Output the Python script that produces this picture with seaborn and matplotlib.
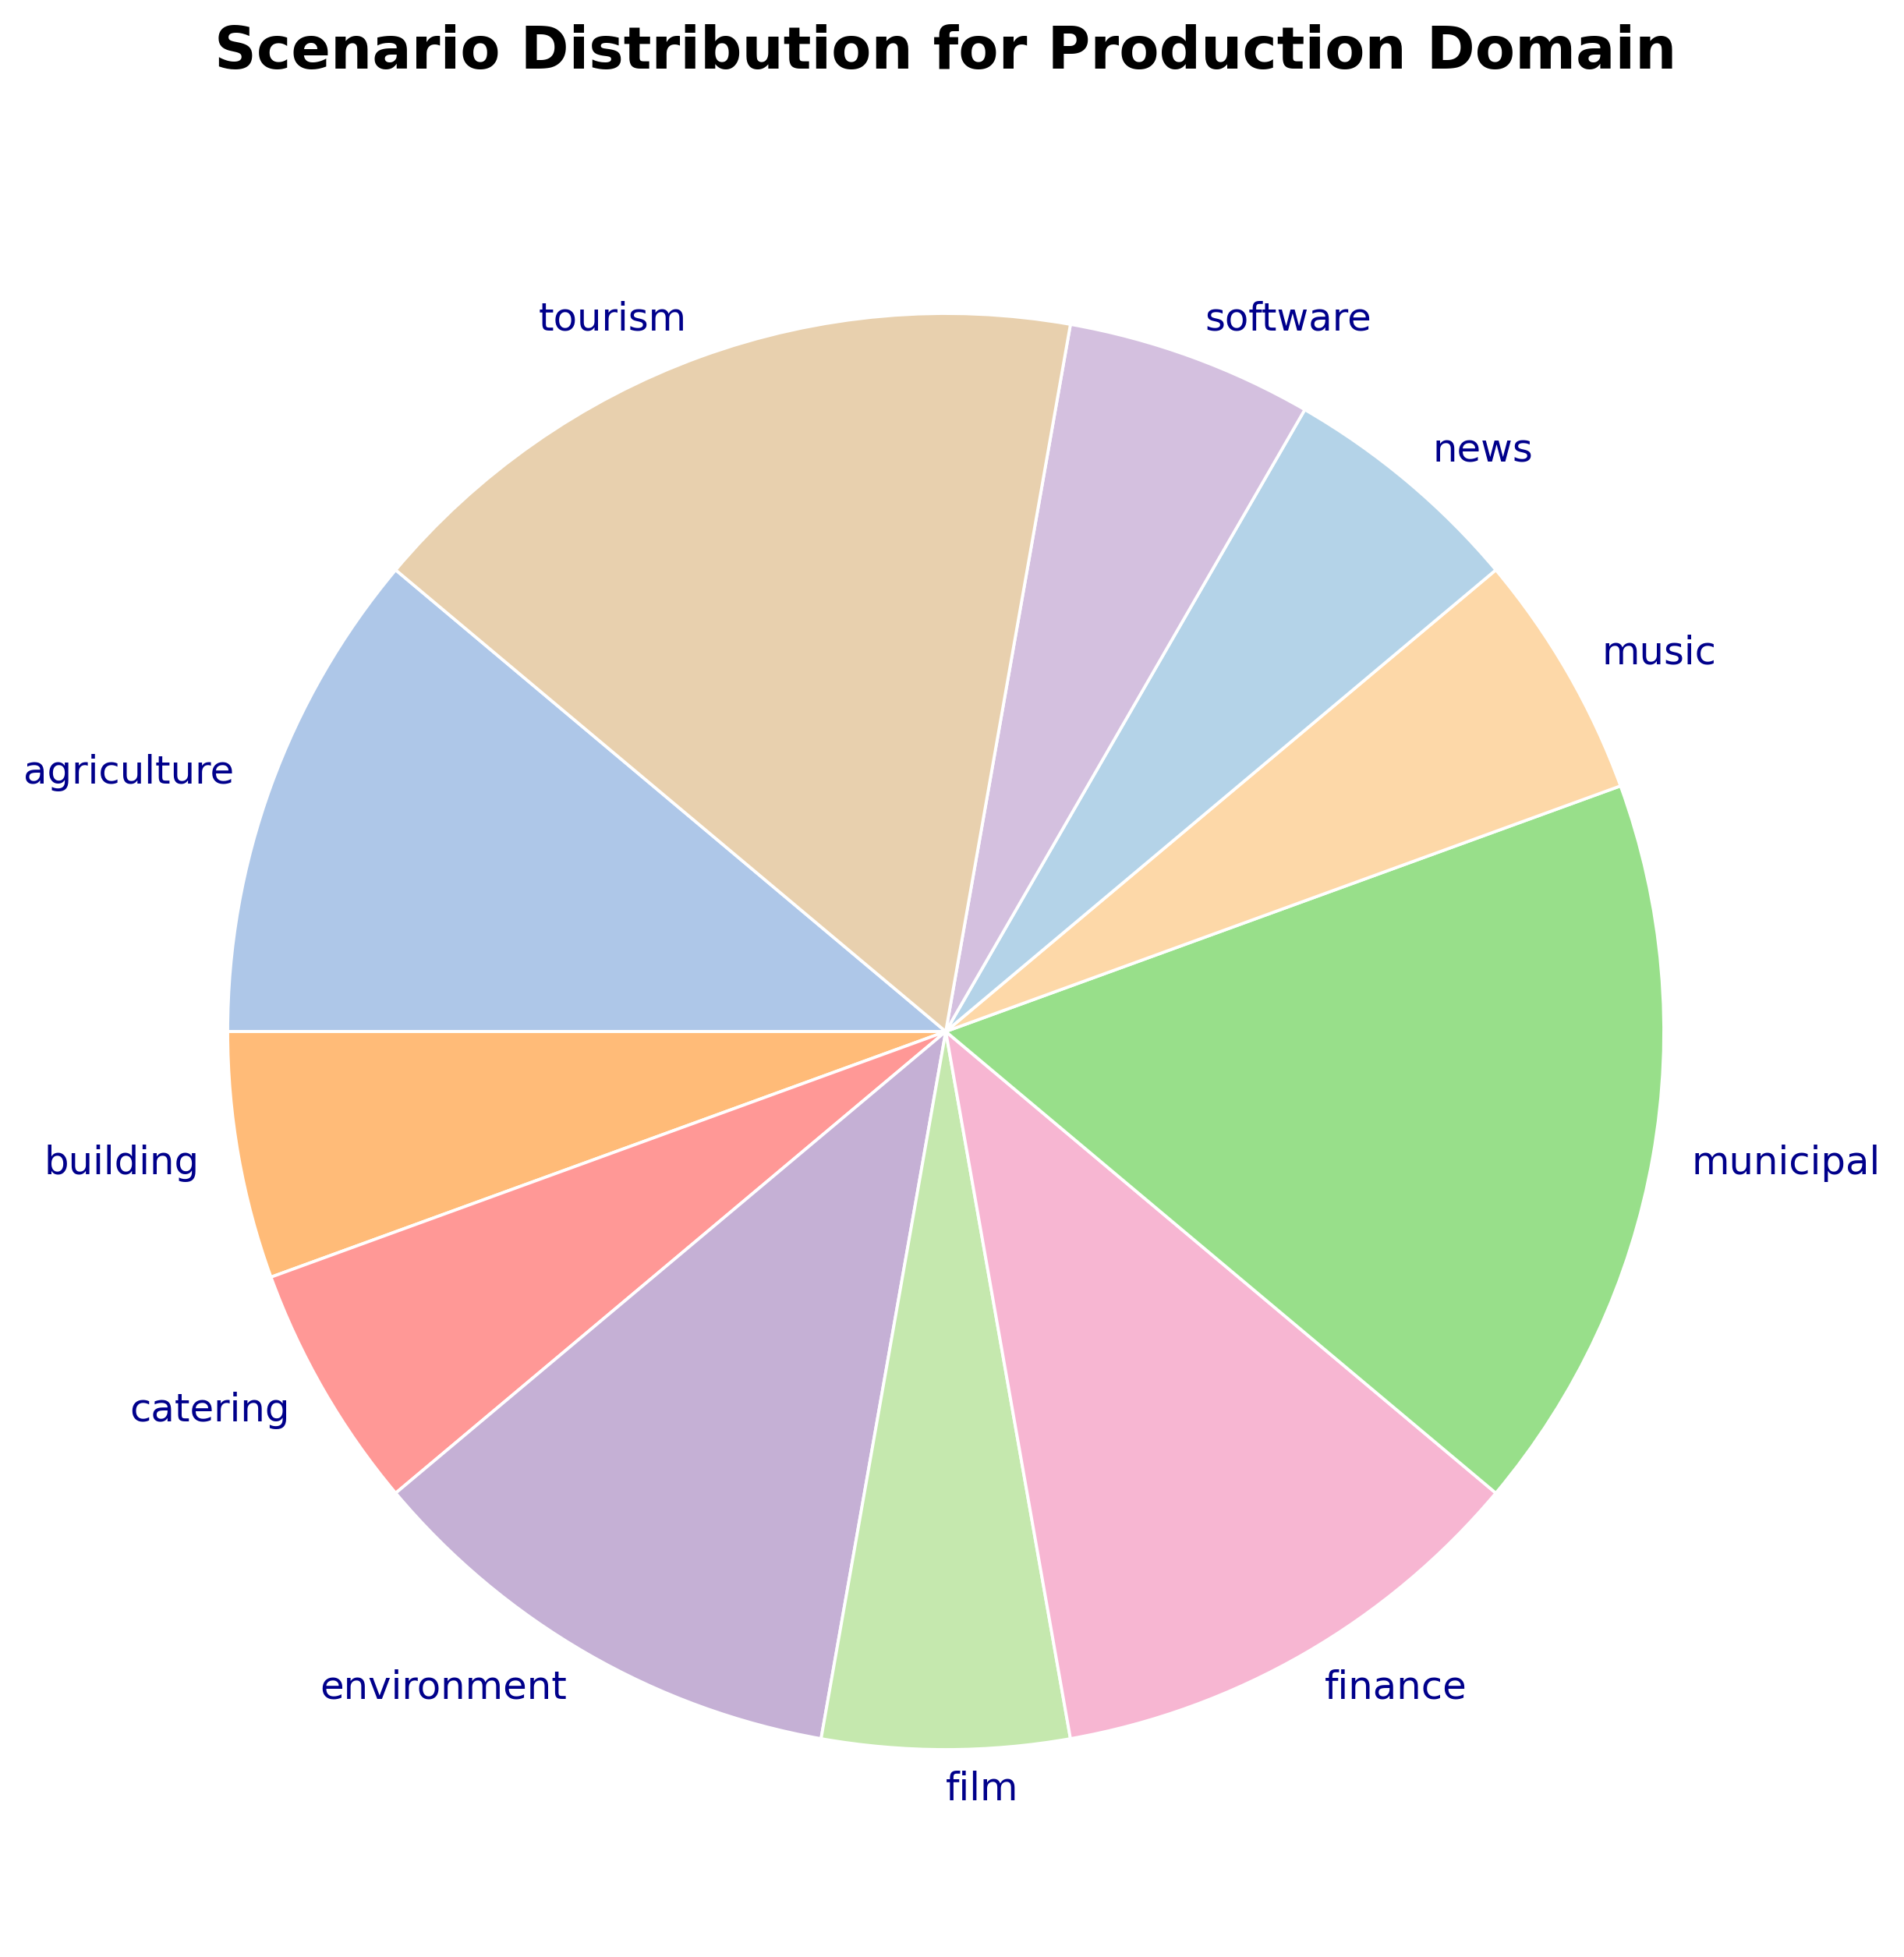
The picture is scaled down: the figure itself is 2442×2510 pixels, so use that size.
import matplotlib
matplotlib.use("Agg")
import matplotlib.pyplot as plt
import seaborn as sns

categories = ["agriculture", "building", "catering", "environment", "film",
              "finance", "municipal", "music", "news", "software", "tourism"]
counts = [2, 1, 1, 2, 1, 2, 3, 1, 1, 1, 3]
colors = ["#aec7e8", "#ffbb78", "#ff9896", "#c5b0d5", "#c5e8ae",
          "#f7b6d2", "#98df8a", "#fdd8a8", "#b4d3e8", "#d4c0df", "#e8d0ae"]
title = "Scenario Distribution for Production Domain"

sns.set_theme(style="white")
plt.rcParams['font.family'] = ['DejaVu Sans']
palette = sns.color_palette(colors)

W, H, DPI = 2442, 2510, 200
fig = plt.figure(figsize=(W / DPI, H / DPI), dpi=DPI)
size = 921 * 2.5
cx, cy = 1213, H - 1323
ax = fig.add_axes([(cx - size / 2) / W, (cy - size / 2) / H, size / W, size / H])

wedges, texts = ax.pie(counts, labels=categories, colors=palette, startangle=140,
                       counterclock=True, labeldistance=1.055,
                       wedgeprops=dict(edgecolor="white", linewidth=1.4),
                       textprops=dict(color="#00008b", fontsize=17.9))
ax.set_aspect("equal")

fig.text(cx / W, (H - 88) / H, title, ha="center", va="baseline",
         fontsize=26.9, fontweight="bold", color="black")

fig.savefig("out.png", dpi=DPI, facecolor="white")
